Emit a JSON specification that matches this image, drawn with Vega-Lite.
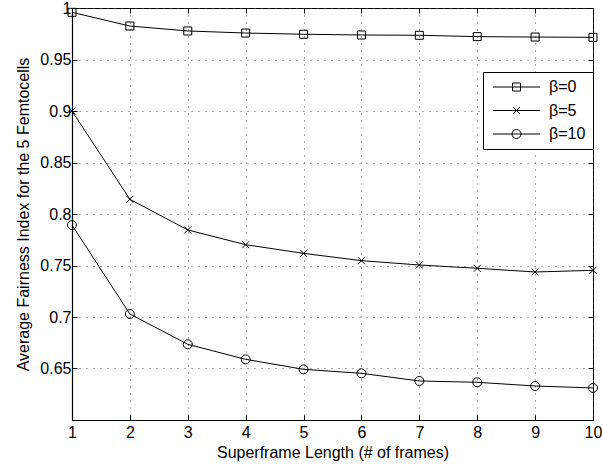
{
  "$schema": "https://vega.github.io/schema/vega-lite/v6.json",
  "width": 521,
  "height": 412,
  "autosize": "none",
  "padding": {"left": 72, "top": 8, "right": 10, "bottom": 48},
  "background": "white",
  "config": {
    "font": "Liberation Sans",
    "view": {"stroke": "black", "strokeWidth": 1},
    "axis": {
      "labelFont": "Liberation Sans",
      "titleFont": "Liberation Sans",
      "labelFontSize": 16,
      "titleFontSize": 16,
      "titleFontWeight": "normal",
      "labelColor": "black",
      "titleColor": "black",
      "domainColor": "black",
      "domainWidth": 1.2,
      "tickColor": "black",
      "tickSize": -5,
      "gridColor": "#555555",
      "gridDash": [1, 6],
      "gridWidth": 1
    }
  },
  "data": {
    "values": [
      {"frames": 1, "series": "β=0", "fairness": 0.9958},
      {"frames": 2, "series": "β=0", "fairness": 0.9825},
      {"frames": 3, "series": "β=0", "fairness": 0.9777},
      {"frames": 4, "series": "β=0", "fairness": 0.9757},
      {"frames": 5, "series": "β=0", "fairness": 0.9745},
      {"frames": 6, "series": "β=0", "fairness": 0.9738},
      {"frames": 7, "series": "β=0", "fairness": 0.9735},
      {"frames": 8, "series": "β=0", "fairness": 0.9722},
      {"frames": 9, "series": "β=0", "fairness": 0.9718},
      {"frames": 10, "series": "β=0", "fairness": 0.9715},
      {"frames": 1, "series": "β=5", "fairness": 0.9},
      {"frames": 2, "series": "β=5", "fairness": 0.8143},
      {"frames": 3, "series": "β=5", "fairness": 0.7845},
      {"frames": 4, "series": "β=5", "fairness": 0.7702},
      {"frames": 5, "series": "β=5", "fairness": 0.7618},
      {"frames": 6, "series": "β=5", "fairness": 0.7547},
      {"frames": 7, "series": "β=5", "fairness": 0.7505},
      {"frames": 8, "series": "β=5", "fairness": 0.7473},
      {"frames": 9, "series": "β=5", "fairness": 0.7437},
      {"frames": 10, "series": "β=5", "fairness": 0.7453},
      {"frames": 1, "series": "β=10", "fairness": 0.7893},
      {"frames": 2, "series": "β=10", "fairness": 0.7029},
      {"frames": 3, "series": "β=10", "fairness": 0.6735},
      {"frames": 4, "series": "β=10", "fairness": 0.6589},
      {"frames": 5, "series": "β=10", "fairness": 0.6492},
      {"frames": 6, "series": "β=10", "fairness": 0.6453},
      {"frames": 7, "series": "β=10", "fairness": 0.6379},
      {"frames": 8, "series": "β=10", "fairness": 0.6366},
      {"frames": 9, "series": "β=10", "fairness": 0.633},
      {"frames": 10, "series": "β=10", "fairness": 0.6311}
    ]
  },
  "layer": [
    {
      "mark": {"type": "line", "color": "black", "strokeWidth": 1},
      "encoding": {
        "x": {
          "field": "frames", "type": "quantitative",
          "scale": {"domain": [1, 10], "nice": false, "zero": false},
          "axis": {"orient": "bottom", "values": [1,2,3,4,5,6,7,8,9,10], "title": "Superframe Length (# of frames)", "grid": true, "labelPadding": 9, "titlePadding": 4, "labelFlush": false}
        },
        "y": {
          "field": "fairness", "type": "quantitative",
          "scale": {"domain": [0.6, 1], "nice": false, "zero": false},
          "axis": {"orient": "left", "values": [0.65,0.7,0.75,0.8,0.85,0.9,0.95,1], "format": "~g", "title": "Average Fairness Index for the 5 Femtocells", "grid": true, "labelPadding": 6, "titlePadding": 8, "labelFlush": false}
        },
        "detail": {"field": "series", "type": "nominal"}
      }
    },
    {
      "mark": {"type": "point", "filled": false, "color": "black", "size": 100, "strokeWidth": 1, "opacity": 1},
      "encoding": {
        "x": {"field": "frames", "type": "quantitative",
          "axis": {"orient": "top", "values": [1,2,3,4,5,6,7,8,9,10], "labels": false, "domain": false, "grid": false, "title": null}},
        "y": {"field": "fairness", "type": "quantitative",
          "axis": {"orient": "right", "values": [0.65,0.7,0.75,0.8,0.85,0.9,0.95,1], "labels": false, "domain": false, "grid": false, "title": null}},
        "shape": {
          "field": "series", "type": "nominal",
          "scale": {"domain": ["β=0", "β=5", "β=10"], "range": ["M-0.8,-0.8H0.8V0.8H-0.8Z", "M-0.7,-0.7L0.7,0.7M-0.7,0.7L0.7,-0.7", "M0.9,0A0.9,0.9 0 1,1 -0.9,0A0.9,0.9 0 1,1 0.9,0Z"]},
          "legend": null
        }
      }
    },
    {
      "mark": {"type": "point", "filled": false, "color": "black", "size": 100, "strokeWidth": 1, "opacity": 0},
      "encoding": {
        "x": {"field": "frames", "type": "quantitative", "axis": null},
        "y": {"field": "fairness", "type": "quantitative", "axis": null},
        "shape": {
          "field": "series", "type": "nominal",
          "scale": {"domain": ["β=0", "β=5", "β=10"], "range": ["M-4.7,0H4.7M-0.8,-0.8H0.8V0.8H-0.8Z", "M-4.7,0H4.7M-0.7,-0.7L0.7,0.7M-0.7,0.7L0.7,-0.7", "M-4.7,0H4.7M0.9,0A0.9,0.9 0 1,1 -0.9,0A0.9,0.9 0 1,1 0.9,0Z"]},
          "legend": {
            "title": null, "orient": "none", "legendX": 411, "legendY": 64,
            "strokeColor": "black", "fillColor": "white", "padding": 7,
            "symbolOffset": 18.5, "labelOffset": 24.5,
            "labelFont": "Liberation Sans", "labelFontSize": 16, "labelColor": "black",
            "symbolStrokeColor": "black", "symbolFillColor": "transparent", "symbolOpacity": 1,
            "symbolSize": 100, "symbolStrokeWidth": 1, "rowPadding": 7.5
          }
        }
      }
    }
  ],
  "resolve": {"scale": {"shape": "independent"}, "axis": {"x": "independent", "y": "independent"}}
}
